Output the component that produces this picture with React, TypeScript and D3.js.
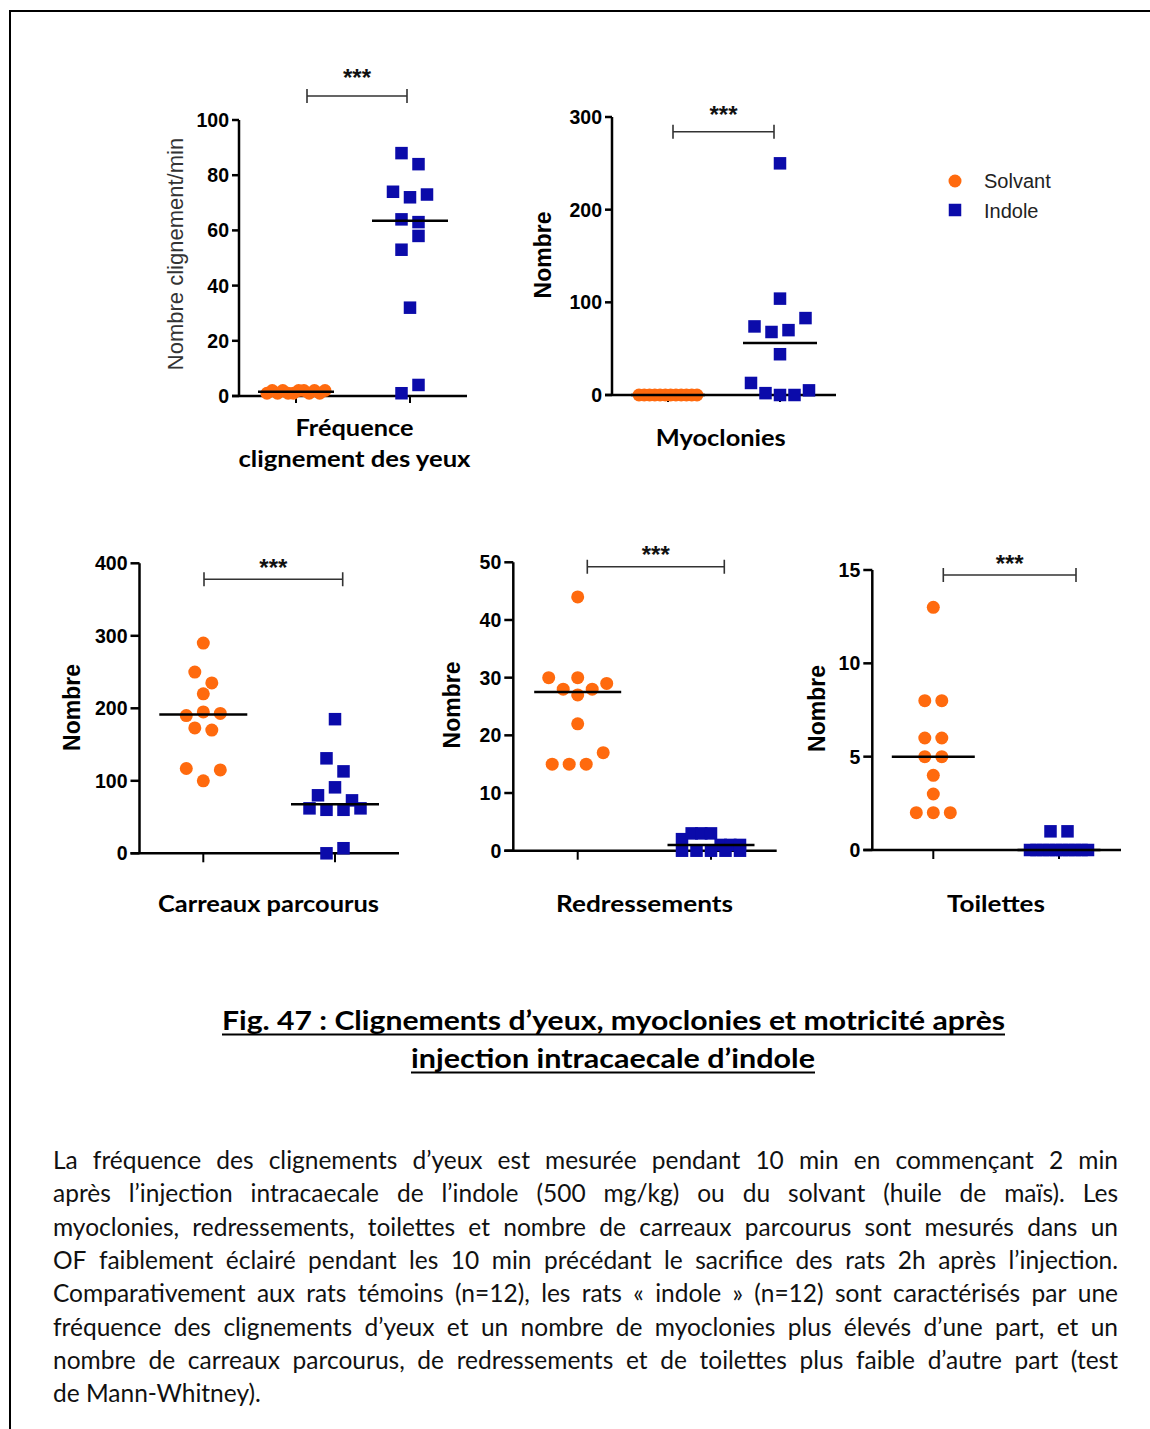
import React from 'react';
import * as d3 from 'd3';

// ---------- data ----------
const groupNames = ['Solvant', 'Indole'];

const blinkSolvant = [1, 2, 1, 2, 1, 1, 2, 2, 1, 2, 1, 2];
const blinkIndole = [88, 84, 74, 72, 73, 64, 63, 53, 58, 32, 1, 4];
const myoSolvant = [0, 0, 0, 0, 0, 0, 0, 0, 0, 0, 0, 0];
const myoIndole = [250, 104, 74, 68, 70, 83, 44, 13, 2, 0, 0, 5];
const tilesSolvant = [290, 250, 235, 220, 190, 195, 193, 173, 170, 117, 100, 115];
const tilesIndole = [185, 131, 113, 80, 91, 73, 62, 60, 60, 62, 0, 7];
const rearSolvant = [44, 30, 28, 30, 28, 29, 27, 22, 15, 15, 15, 17];
const rearIndole = [2, 3, 3, 3, 1, 1, 1, 0, 0, 0, 0, 0];
const groomSolvant = [13, 8, 8, 6, 6, 5, 5, 4, 3, 2, 2, 2];
const groomIndole = [1, 1, 0, 0, 0, 0, 0, 0, 0, 0, 0, 0];

const blinkTicks = [0, 20, 40, 60, 80, 100];
const myoTicks = [0, 100, 200, 300];
const tilesTicks = [0, 100, 200, 300, 400];
const rearTicks = [0, 10, 20, 30, 40, 50];
const groomTicks = [0, 5, 10, 15];

const significance = ['***', '***', '***', '***', '***'];

const categoryLabels = [
  ['Fréquence', 'clignement des yeux'],
  ['Myoclonies'],
  ['Carreaux parcourus'],
  ['Redressements'],
  ['Toilettes'],
];
const yAxisLabels = ['Nombre clignement/min', 'Nombre', 'Nombre', 'Nombre', 'Nombre'];

const titleLines = [
  'Fig. 47 : Clignements d’yeux, myoclonies et motricité après',
  'injection intracaecale d’indole',
];

const bodyLines = [
  'La fréquence des clignements d’yeux est mesurée pendant 10 min en commençant 2 min',
  'après l’injection intracaecale de l’indole (500 mg/kg) ou du solvant (huile de maïs). Les',
  'myoclonies, redressements, toilettes et nombre de carreaux parcourus sont mesurés dans un',
  'OF faiblement éclairé pendant les 10 min précédant le sacrifice des rats 2h après l’injection.',
  'Comparativement aux rats témoins (n=12), les rats « indole » (n=12) sont caractérisés par une',
  'fréquence des clignements d’yeux et un nombre de myoclonies plus élevés d’une part, et un',
  'nombre de carreaux parcourus, de redressements et de toilettes plus faible d’autre part (test',
  'de Mann-Whitney).',
];

// ---------- layout ----------
const ORANGE = '#FF6A0E';
const BLUE = '#0B0BAA';
const ARIAL = '"Liberation Sans", Arial, sans-serif';
const CALIBRI = 'Lato, "Open Sans", sans-serif';

type Panel = {
  solvant: number[];
  indole: number[];
  ticks: number[];
  axisX: number;
  yTop: number;
  y0: number;
  xEnd: number;
  gx: [number, number];
  bracket: [number, number, number];
  starY: number;
  medW: number;
  tickLen: number;
  yLab: [number, number];
  yLabBold: boolean;
  yLabSize: number;
  cat: { x: number; ys: number[]; w: number[] };
};

const panels: Panel[] = [
  {
    solvant: blinkSolvant, indole: blinkIndole, ticks: blinkTicks,
    axisX: 239, yTop: 120, y0: 396, xEnd: 467, gx: [296, 410],
    bracket: [307, 407, 96], starY: 72.5, medW: 76, tickLen: 7,
    yLab: [175, 254], yLabBold: false, yLabSize: 22,
    cat: { x: 354.5, ys: [436, 467], w: [118, 232] },
  },
  {
    solvant: myoSolvant, indole: myoIndole, ticks: myoTicks,
    axisX: 612, yTop: 117, y0: 395, xEnd: 836, gx: [668, 780],
    bracket: [673, 774, 131.7], starY: 109, medW: 74, tickLen: 7,
    yLab: [542.5, 255], yLabBold: true, yLabSize: 23,
    cat: { x: 720.8, ys: [446], w: [130] },
  },
  {
    solvant: tilesSolvant, indole: tilesIndole, ticks: tilesTicks,
    axisX: 139.5, yTop: 563.3, y0: 853.3, xEnd: 399, gx: [203.3, 335],
    bracket: [204, 342.7, 579.3], starY: 562.7, medW: 88, tickLen: 9,
    yLab: [71.7, 707.5], yLabBold: true, yLabSize: 23,
    cat: { x: 268.5, ys: [912], w: [221] },
  },
  {
    solvant: rearSolvant, indole: rearIndole, ticks: rearTicks,
    axisX: 513.3, yTop: 562.3, y0: 850.7, xEnd: 776.7, gx: [577.7, 711],
    bracket: [587.3, 724.3, 566.7], starY: 549.5, medW: 87, tickLen: 9,
    yLab: [451.7, 705], yLabBold: true, yLabSize: 23,
    cat: { x: 644.5, ys: [912], w: [177] },
  },
  {
    solvant: groomSolvant, indole: groomIndole, ticks: groomTicks,
    axisX: 872.3, yTop: 570, y0: 850, xEnd: 1121, gx: [933.3, 1059],
    bracket: [943.3, 1076, 575], starY: 558.3, medW: 83, tickLen: 9,
    yLab: [817, 708.5], yLabBold: true, yLabSize: 23,
    cat: { x: 996, ys: [912], w: [98] },
  },
];

const MARK = 13;
const SPACING = 17;
const MAX_SPAN = 58;
const ROW_T = 15;

function swarm(values: number[], cx: number, y: (v: number) => number) {
  const idx = values.map((_, i) => i).sort((a, b) => values[b] - values[a] || a - b);
  const rows: number[][] = [];
  let cur: number[] = [];
  let topY = 0;
  for (const i of idx) {
    const py = y(values[i]);
    if (cur.length && py - topY < ROW_T) cur.push(i);
    else {
      if (cur.length) rows.push(cur);
      cur = [i];
      topY = py;
    }
  }
  if (cur.length) rows.push(cur);
  const xs: number[] = new Array(values.length);
  rows.forEach((r) => {
    r.sort((a, b) => a - b);
    const n = r.length;
    const sp = n > 1 ? Math.min(SPACING, MAX_SPAN / (n - 1)) : 0;
    r.forEach((i, k) => (xs[i] = cx + (k - (n - 1) / 2) * sp));
  });
  return values.map((v, i) => ({ x: xs[i], y: y(v) }));
}

let measureCtx: CanvasRenderingContext2D | null = null;
function measure(text: string, font: string) {
  if (!measureCtx) measureCtx = document.createElement('canvas').getContext('2d');
  if (!measureCtx) return text.length * 10;
  measureCtx.font = font;
  return measureCtx.measureText(text).width;
}

function PanelView({ p, k }: { p: Panel; k: number }) {
  const maxT = p.ticks[p.ticks.length - 1];
  const y = d3.scaleLinear().domain([0, maxT]).range([p.y0, p.yTop]);
  const series = [p.solvant, p.indole];
  const pts = series.map((vals, g) => swarm(vals, p.gx[g], y));
  const meds = series.map((vals) => d3.median(vals) as number);
  const [bx1, bx2, by] = p.bracket;
  return (
    <g>
      <line x1={p.axisX} x2={p.axisX} y1={p.yTop} y2={p.y0} stroke="#000" strokeWidth={2.5} />
      <line x1={p.axisX - p.tickLen} x2={p.xEnd} y1={p.y0} y2={p.y0} stroke="#000" strokeWidth={2.5} />
      {p.ticks.map((t) => (
        <g key={t}>
          <line x1={p.axisX - p.tickLen} x2={p.axisX} y1={y(t)} y2={y(t)} stroke="#000" strokeWidth={2.5} />
          <text x={p.axisX - p.tickLen - 3} y={y(t)} dy="0.36em" textAnchor="end"
            fontFamily={ARIAL} fontWeight="bold" fontSize={19.5} fill="#000">{t}</text>
        </g>
      ))}
      {p.gx.map((gx, g) => (
        <line key={g} x1={gx} x2={gx} y1={p.y0} y2={p.y0 + p.tickLen} stroke="#000" strokeWidth={2} />
      ))}
      <text transform={`translate(${p.yLab[0]},${p.yLab[1]}) rotate(-90)`} textAnchor="middle"
        dominantBaseline="central" fontFamily={ARIAL} fontWeight={p.yLabBold ? 'bold' : 'normal'}
        fontSize={p.yLabSize} fill={p.yLabBold ? '#000' : '#333'}>{yAxisLabels[k]}</text>
      {pts[0].map((d, i) => (
        <circle key={'s' + i} cx={d.x} cy={d.y} r={MARK / 2} fill={ORANGE} />
      ))}
      {pts[1].map((d, i) => (
        <rect key={'i' + i} x={d.x - MARK / 2 + 0.25} y={d.y - MARK / 2 + 0.25} width={MARK - 0.5}
          height={MARK - 0.5} fill={BLUE} />
      ))}
      {meds.map((m, g) => (
        <line key={'m' + g} x1={p.gx[g] - p.medW / 2} x2={p.gx[g] + p.medW / 2} y1={y(m)} y2={y(m)}
          stroke="#000" strokeWidth={2.5} />
      ))}
      <path d={`M${bx1},${by - 7}V${by + 7}M${bx1},${by}H${bx2}M${bx2},${by - 7}V${by + 7}`}
        stroke="#333" strokeWidth={1.6} fill="none" />
      <text x={(bx1 + bx2) / 2} y={p.starY + 13.5} textAnchor="middle" fontFamily={ARIAL}
        fontWeight="bold" fontSize={24} fill="#111">{significance[k]}</text>
      {categoryLabels[k].map((s, j) => (
        <text key={j} x={p.cat.x} y={p.cat.ys[j]} textAnchor="middle" fontFamily={CALIBRI}
          fontWeight="bold" fontSize={23} fill="#000" textLength={p.cat.w[j]}
          lengthAdjust="spacingAndGlyphs">{s}</text>
      ))}
    </g>
  );
}

function Body() {
  const left = 53;
  const right = 1118;
  const avail = right - left;
  const base0 = 1169;
  const lh = 33.3;
  // pick font size so the unjustified last line matches its width in the reference
  const lastW = measure(bodyLines[bodyLines.length - 1], '20px Lato');
  const longest = Math.max(...bodyLines.map((l) => measure(l, '20px Lato')));
  const size = Math.min(20 * 215 / lastW, 20 * (avail - 2) / longest, 24.5);
  const font = `${size}px Lato`;
  return (
    <g fontFamily={CALIBRI} fontSize={size} fill="#111">
      {bodyLines.map((line, li) => {
        const yy = base0 + li * lh;
        if (li === bodyLines.length - 1) {
          return <text key={li} x={left} y={yy}>{line}</text>;
        }
        const words = line.split(' ');
        const ws = words.map((w) => measure(w, font));
        const total = ws.reduce((a, b) => a + b, 0);
        const gap = (avail - total) / (words.length - 1);
        let x = left;
        return (
          <g key={li}>
            {words.map((w, wi) => {
              const el = <text key={wi} x={x} y={yy}>{w}</text>;
              x += ws[wi] + gap;
              return el;
            })}
          </g>
        );
      })}
    </g>
  );
}

export default function App() {
  const titleSpec = [
    { cx: 613.5, y: 1030, len: 783 },
    { cx: 613, y: 1068, len: 404 },
  ];
  return (
    <svg width={1150} height={1429} style={{ position: 'absolute', left: 0, top: 0, display: 'block' }}
      xmlns="http://www.w3.org/2000/svg">
      <rect width={1150} height={1429} fill="#fff" />
      <line x1={10} x2={1150} y1={11} y2={11} stroke="#000" strokeWidth={2} />
      <line x1={10} x2={10} y1={10} y2={1429} stroke="#000" strokeWidth={2} />

      {panels.map((p, k) => <PanelView key={k} p={p} k={k} />)}

      <circle cx={955} cy={181} r={MARK / 2} fill={ORANGE} />
      <text x={984} y={181} dy="0.36em" fontFamily={ARIAL} fontSize={20} fill="#222">{groupNames[0]}</text>
      <rect x={955 - 6.25} y={210 - 6.25} width={12.5} height={12.5} fill={BLUE} />
      <text x={984} y={211} dy="0.36em" fontFamily={ARIAL} fontSize={20} fill="#222">{groupNames[1]}</text>

      {titleLines.map((t, i) => (
        <g key={i}>
          <text x={titleSpec[i].cx} y={titleSpec[i].y} textAnchor="middle" fontFamily={CALIBRI}
            fontWeight="bold" fontSize={27} fill="#000" textLength={titleSpec[i].len}
            lengthAdjust="spacingAndGlyphs">{t}</text>
          <line x1={titleSpec[i].cx - titleSpec[i].len / 2} x2={titleSpec[i].cx + titleSpec[i].len / 2}
            y1={titleSpec[i].y + 4.5} y2={titleSpec[i].y + 4.5} stroke="#000" strokeWidth={2} />
        </g>
      ))}

      <Body />
    </svg>
  );
}
